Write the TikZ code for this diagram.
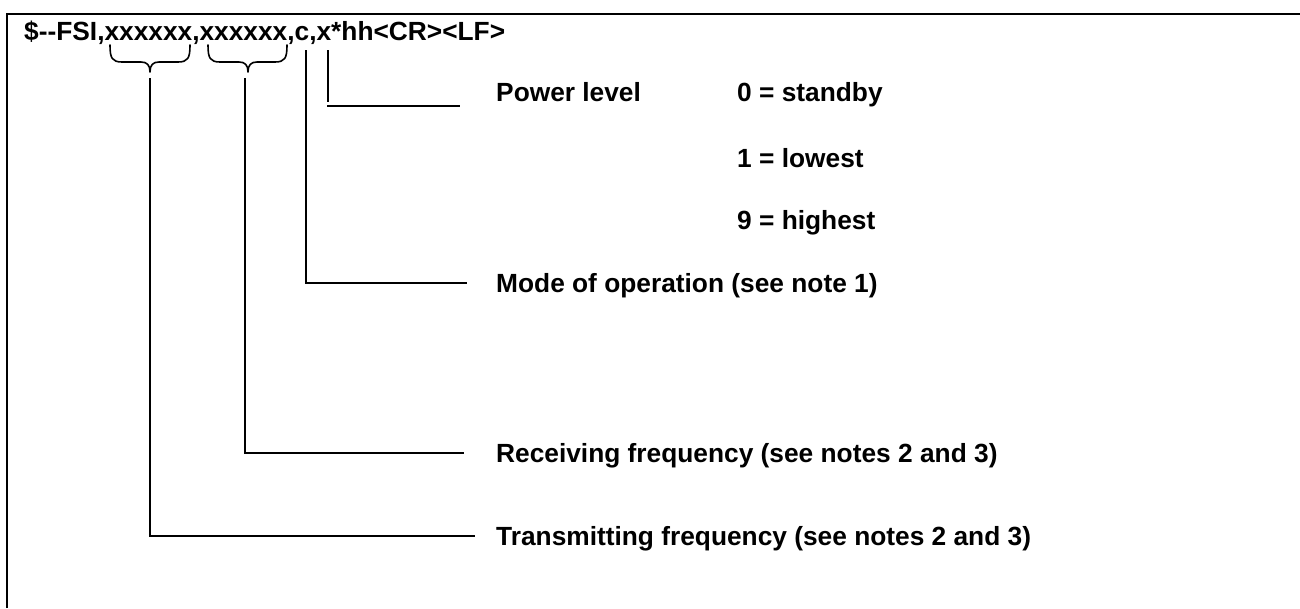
\documentclass[tikz,border=0pt]{standalone}
\usepackage{fontspec}
\setmainfont{Liberation Sans}
\begin{document}
\begin{tikzpicture}[x=1pt,y=-1pt,
  lbl/.style={anchor=base west, inner sep=0pt, font=\fontsize{26.3}{30}\selectfont\bfseries},
  leader/.style={draw, line width=1.6pt},
  bracepath/.style={draw, line width=1.6pt, line cap=round, line join=round},
  frame/.style={draw, line width=2.2pt}]
\useasboundingbox (0,0) rectangle (1300,608);
% frame (top and left edges visible)
\coordinate (fbl) at (7,608);
\coordinate (ftl) at (7,14);
\coordinate (ftr) at (1300,14);
\path[frame] (fbl) -- (ftl) -- (ftr);

% sentence header
\node[lbl] (hdr) at (24,40) {\$-{}-FSI,xxxxxx,xxxxxx,c,x*hh<CR><LF>};

% labels
\node[lbl] (pow)  at (496,101) {Power level};
\node[lbl] (p0)   at (737,101) {0 = standby};
\node[lbl] (p1)   at (737,167) {1 = lowest};
\node[lbl] (p9)   at (737,229) {9 = highest};
\node[lbl] (mode) at (496,292) {Mode of operation (see note 1)};
\node[lbl] (rx)   at (496,462) {Receiving frequency (see notes 2 and 3)};
\node[lbl] (tx)   at (496,545) {Transmitting frequency (see notes 2 and 3)};

% braces under the two frequency fields
\path[bracepath] (110,45) .. controls (110,58) and (112,62) .. (122,62)
  -- (141,62) .. controls (147,62) and (150,65) .. (150,72)
  .. controls (150,65) and (153,62) .. (159,62)
  -- (178,62) .. controls (188,62) and (190,58) .. (190,45);
\path[bracepath] (208,45) .. controls (208,58) and (210,62) .. (220,62)
  -- (239,62) .. controls (245,62) and (248,65) .. (248,72)
  .. controls (248,65) and (251,62) .. (257,62)
  -- (275,62) .. controls (285,62) and (287,58) .. (287,45);

% leader lines
\coordinate (txtop) at (150,78);
\coordinate (txc)   at (150,536);
\coordinate (txe)   at (475,536);
\path[leader] (txtop) -- (txc) -- (txe);

\coordinate (rxtop) at (245,78);
\coordinate (rxc)   at (245,453);
\coordinate (rxe)   at (464,453);
\path[leader] (rxtop) -- (rxc) -- (rxe);

\coordinate (mtop) at (306,50);
\coordinate (mc)   at (306,283);
\coordinate (me)   at (467,283);
\path[leader] (mtop) -- (mc) -- (me);

\coordinate (ptop) at (328,50);
\coordinate (pbot) at (328,102);
\coordinate (pl)   at (327,106);
\coordinate (pe)   at (460,106);
\path[leader] (ptop) -- (pbot);
\path[leader] (pl) -- (pe);
\end{tikzpicture}
\end{document}
